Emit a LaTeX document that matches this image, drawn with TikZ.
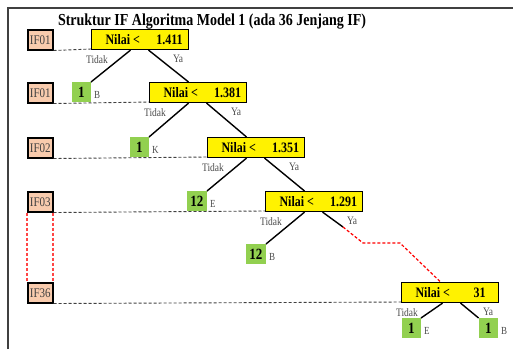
\documentclass[tikz,border=0pt]{standalone}
\usepackage{fontspec}
\usepackage{graphicx}
\setmainfont{Liberation Serif}
\usetikzlibrary{positioning}
\definecolor{ifpink}{RGB}{248,203,173}
\definecolor{leafgreen}{RGB}{146,208,80}
\definecolor{jumpred}{RGB}{255,70,70}
\newcommand{\tall}[1]{\scalebox{1}[1.2]{#1}}
\newcommand{\nilai}[1]{\makebox[97pt]{\hspace{14pt}\tall{Nilai <}\hfill\makebox[30pt]{\tall{#1}}\hspace{4pt}}}
\begin{document}
\begin{tikzpicture}[x=1pt, y=-1pt,
    ifbox/.style={draw=black, line width=1.5pt, fill=ifpink, minimum width=25pt, minimum height=20pt, inner sep=0pt, anchor=north west, font=\fontsize{11}{11}\selectfont, text=black!75},
    testbox/.style={draw, line width=1.1pt, fill=yellow, minimum width=97pt, minimum height=20pt, inner sep=0pt, anchor=north west, font=\bfseries\fontsize{12}{12}\selectfont},
    leaf/.style={fill=leafgreen, minimum width=19pt, minimum height=20pt, inner sep=0pt, anchor=north east, font=\bfseries\fontsize{13}{13}\selectfont},
    tag/.style={font=\fontsize{9}{9}\selectfont, text=black!70, inner sep=0pt, anchor=base west},
    branch/.style={font=\fontsize{9.5}{10}\selectfont, text=black!70, inner sep=0pt},
    edge/.style={line width=1.4pt},
    level/.style={black!75, line width=0.9pt, dash pattern=on 3pt off 2pt},
    jump/.style={jumpred, line width=1.2pt, dash pattern=on 3pt off 2pt}]
    \useasboundingbox (0,0) rectangle (513,349);
    \draw[black!75, line width=1.2pt] (8,349) -- (8,8) -- (513,8);
    \node (title) [font=\bfseries\fontsize{14}{14}\selectfont, anchor=base] at (212,25) {\tall{Struktur IF Algoritma Model 1 (ada 36 Jenjang IF)}};
    \node (if1) [ifbox] at (27,29) {\tall{IF01}};
    \node (if2) [ifbox] at (27,82) {\tall{IF01}};
    \node (if3) [ifbox] at (27,137) {\tall{IF02}};
    \node (if4) [ifbox] at (27,191) {\tall{IF03}};
    \node (if36) [ifbox] at (27,282) {\tall{IF36}};
    \draw[level] (if1.south east) -- (91,49) coordinate (lv1);
    \draw[level] (if2.south east) -- (149,102) coordinate (lv2);
    \draw[level] (if3.south east) -- (207,157) coordinate (lv3);
    \draw[level] (if4.south east) -- (265,211) coordinate (lv4);
    \draw[level] (if36.south east) -- (401,302) coordinate (lv36);
    \draw[jump, line width=1.5pt] (if4.south west) -- (if36.north west);
    \draw[jump, line width=1.5pt] ([xshift=-0.75pt]if4.south east) -- ([xshift=-0.75pt]if36.north east);
    \node (n1) [testbox] at (91,29) {\nilai{1.411}};
    \node (n2) [testbox] at (149,82) {\nilai{1.381}};
    \node (n3) [testbox] at (207,137) {\nilai{1.351}};
    \node (n4) [testbox] at (265,191) {\nilai{1.291}};
    \node (n5) [testbox] at (401,282) {\nilai{31}};
    \node (l1) [leaf] at (n2.north west) [xshift=-58pt] {\tall{1}};
    \node (l2) [leaf] at (n3.north west) [xshift=-58pt] {\tall{1}};
    \node (l3) [leaf, minimum width=20pt] at (n4.north west) [xshift=-58pt] {\tall{12}};
    \node (l4) [leaf, minimum width=20pt] at (266,244) {\tall{12}};
    \node (l5) [leaf] at (421,318) {\tall{1}};
    \node (l6) [leaf] at (498,318) {\tall{1}};
    \node (t1) [tag] at ([xshift=3pt, yshift=4pt]l1.south east) {\tall{B}};
    \node (t2) [tag] at ([xshift=3pt, yshift=4pt]l2.south east) {\tall{K}};
    \node (t3) [tag] at ([xshift=3pt, yshift=4pt]l3.south east) {\tall{E}};
    \node (t4) [tag] at ([xshift=3pt, yshift=4pt]l4.south east) {\tall{B}};
    \node (t5) [tag] at ([xshift=3pt, yshift=4pt]l5.south east) {\tall{E}};
    \node (t6) [tag] at ([xshift=3pt, yshift=4pt]l6.south east) {\tall{B}};
    \foreach \n in {n1,n2,n3,n4,n5} {
        \node (\n-no) [branch] at ([xshift=6pt, yshift=-9pt]\n.south west) {\tall{Tidak}};
        \node (\n-yes) [branch] at ([xshift=-11pt, yshift=-9pt]\n.south east) {\tall{Ya}};
    }
    \coordinate (ya4) at (343,227);
    \coordinate (bend1) at (363,243);
    \coordinate (bend2) at (400,243);
    \draw[edge] ([xshift=-9.5pt]n1.south) -- (l1.north east);
    \draw[edge] ([xshift=8.5pt]n1.south) -- ([xshift=-9.5pt]n2.north);
    \draw[edge] ([xshift=-9.5pt]n2.south) -- (l2.north east);
    \draw[edge] ([xshift=8.5pt]n2.south) -- ([xshift=-9.5pt]n3.north);
    \draw[edge] ([xshift=-9.5pt]n3.south) -- (l3.north east);
    \draw[edge] ([xshift=8.5pt]n3.south) -- ([xshift=-9.5pt]n4.north);
    \draw[edge] ([xshift=-9.5pt]n4.south) -- (l4.north east);
    \draw[edge] ([xshift=8.5pt]n4.south) -- (ya4);
    \draw[jump, red] (ya4) -- (bend1) -- (bend2) -- ([xshift=-9.5pt]n5.north);
    \draw[edge] ([xshift=-7.5pt]n5.south) -- (l5.north east);
    \draw[edge] ([xshift=10.5pt]n5.south) -- (l6.north west);
\end{tikzpicture}
\end{document}
